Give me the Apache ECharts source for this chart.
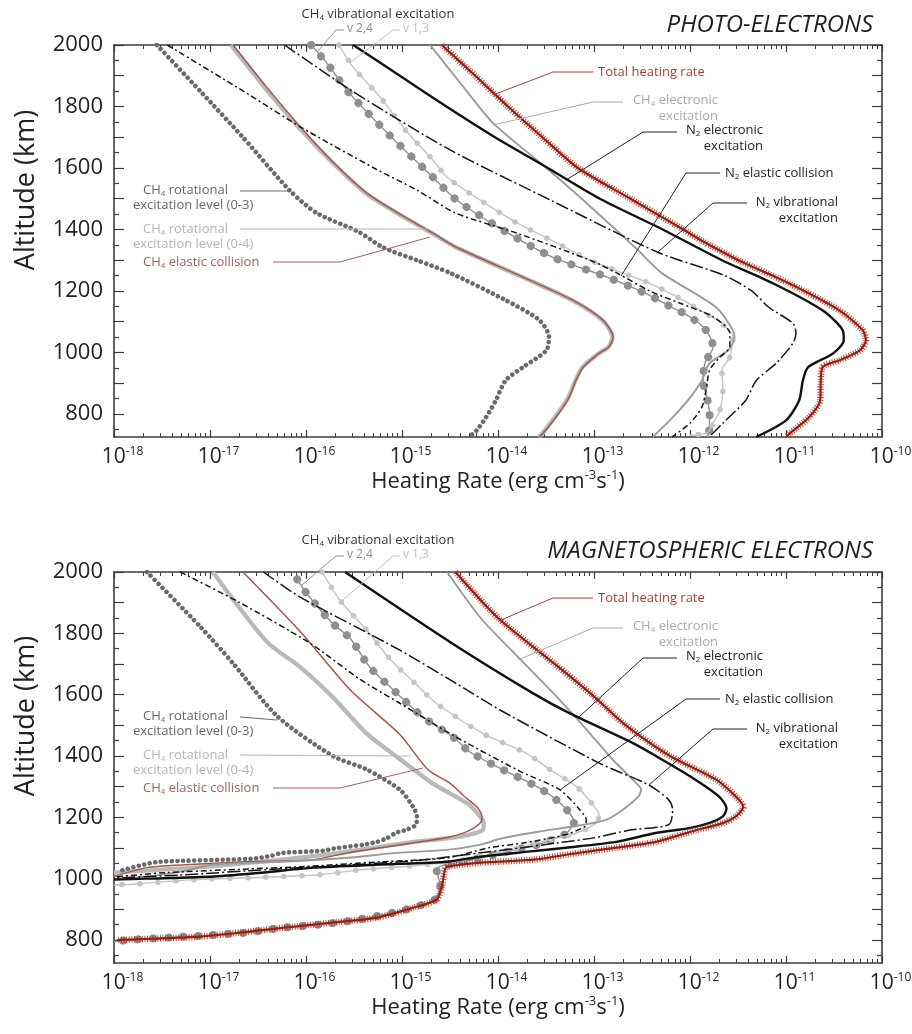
<!DOCTYPE html>
<html>
<head>
<meta charset="utf-8">
<script src="https://cdn.jsdelivr.net/npm/echarts@6/dist/echarts.min.js"></script>
<style>
  html, body { margin: 0; padding: 0; background: #ffffff; }
  #chart { width: 912px; height: 1034px; }
</style>
</head>
<body>
<div id="chart"></div>
<script>
// Heating-rate profiles: each entry is [heating rate (erg cm^-3 s^-1), altitude (km)]

// ---- Photo-electrons ----
const photoTotal = [[2.6e-15,2000],[5.8e-15,1900],[1.27e-14,1800],[2.9e-14,1700],[6.8e-14,1600],[2.4e-13,1500],[8.5e-13,1400],[1.3e-12,1365],[3.2e-12,1300],[1.07e-11,1225],[3.6e-11,1137],[6.3e-11,1072],[6.8e-11,1040],[5.9e-11,1007],[3.65e-11,975],[2.4e-11,952],[2.3e-11,900],[2.27e-11,844],[1.74e-11,789],[1.1e-11,737],[1.0e-11,725]];
const photoN2Elec = [[3.1e-16,2000],[9.5e-16,1900],[2.9e-15,1800],[9.3e-15,1700],[3.3e-14,1600],[1.15e-13,1500],[5.2e-13,1400],[2.15e-12,1300],[7.3e-12,1225],[2.4e-11,1137],[3.9e-11,1072],[4.0e-11,1040],[3.1e-11,997],[1.7e-11,952],[1.5e-11,909],[1.37e-11,844],[1.0e-11,779],[4.9e-12,725]];
const photoCH4Elec = [[1.96e-15,2000],[4.2e-15,1870],[8.9e-15,1746],[3.2e-14,1600],[7.7e-14,1496],[2.8e-13,1336],[5.1e-13,1258],[1.87e-12,1147],[2.8e-12,1072],[2.9e-12,1046],[2.5e-12,1007],[1.6e-12,965],[1.33e-12,909],[9.5e-13,844],[6.6e-13,789],[4.1e-13,725]];
const photoN2Elastic = [[3.6e-18,2000],[2.6e-17,1837],[8.7e-17,1734],[5.1e-16,1600],[1.43e-15,1528],[3.65e-15,1453],[1.58e-14,1388],[9.1e-14,1300],[1.74e-13,1258],[3.8e-13,1200],[7.9e-13,1160],[1.74e-12,1116],[2.6e-12,1063],[2.6e-12,1018],[2.05e-12,985],[1.6e-12,942],[1.47e-12,877],[1.33e-12,822],[1.0e-12,770],[6.5e-13,725]];
const photoN2Vib = [[6.0e-17,2000],[2.9e-16,1854],[3.2e-15,1658],[3.5e-14,1496],[4.6e-13,1326],[2.3e-12,1250],[4.4e-12,1200],[6.6e-12,1147],[1.18e-11,1095],[1.27e-11,1063],[1.18e-11,1030],[7.9e-12,965],[4.9e-12,909],[3.8e-12,844],[2.2e-12,770],[1.58e-12,725]];
const photoVib24 = [[1.13e-16,2000],[1.65e-16,1941],[2.8e-16,1845],[7.5e-16,1705],[2.1e-15,1570],[3.7e-15,1496],[1.13e-14,1398],[3.7e-14,1310],[1.37e-13,1245],[3.4e-13,1193],[6.2e-13,1150],[1.0e-12,1116],[1.47e-12,1072],[1.74e-12,1018],[1.43e-12,965],[1.37e-12,909],[1.5e-12,854],[1.6e-12,802],[1.58e-12,740],[1.5e-12,725]];
const photoVib13 = [[2.2e-16,2000],[3.1e-16,1928],[5.9e-16,1831],[1.13e-15,1717],[2.1e-15,1626],[2.95e-15,1570],[6.5e-15,1496],[1.58e-14,1421],[4.1e-14,1356],[9.1e-14,1300],[2.0e-13,1258],[3.8e-13,1225],[8.5e-13,1170],[1.37e-12,1131],[2.05e-12,1099],[2.8e-12,1050],[2.6e-12,985],[2.15e-12,942],[2.2e-12,877],[2.05e-12,812],[1.74e-12,770],[1.53e-12,740],[1.0e-12,730]];
const photoRot03 = [[2.8e-18,2000],[7.9e-18,1850],[2.2e-17,1700],[6.8e-17,1526],[1.3e-16,1453],[3.5e-16,1393],[6.3e-16,1342],[1.43e-15,1300],[3.2e-15,1258],[1.2e-14,1170],[2.7e-14,1105],[3.4e-14,1050],[3.2e-14,1007],[1.82e-14,952],[1.2e-14,909],[9.5e-15,844],[7.5e-15,789],[6.0e-15,747],[5.0e-15,725]];
const photoRot04 = [[1.65e-17,2000],[3.6e-17,1867],[8.3e-17,1734],[1.85e-16,1620],[4.2e-16,1518],[9.3e-16,1450],[2.05e-15,1388],[3.6e-15,1343],[1.8e-14,1245],[5.9e-14,1170],[1.22e-13,1105],[1.56e-13,1050],[1.42e-13,1018],[1.12e-13,997],[7.6e-14,952],[6.4e-14,909],[5.4e-14,854],[4.2e-14,802],[2.9e-14,737],[2.65e-14,725]];
const photoCH4Elastic = [[1.74e-17,2000],[3.8e-17,1867],[8.7e-17,1734],[1.9e-16,1620],[4.3e-16,1518],[9.5e-16,1450],[2.1e-15,1388],[3.65e-15,1343],[1.82e-14,1245],[6.0e-14,1170],[1.24e-13,1105],[1.58e-13,1050],[1.43e-13,1018],[1.13e-13,997],[7.7e-14,952],[6.5e-14,909],[5.5e-14,854],[4.3e-14,802],[2.95e-14,737],[2.7e-14,725]];

// ---- Magnetospheric electrons ----
const magTotal = [[3.6e-15,2000],[1.0e-14,1850],[3.9e-14,1700],[9.5e-14,1600],[2.15e-13,1500],[6.2e-13,1400],[1.87e-12,1323],[3.0e-12,1268],[3.6e-12,1235],[3.0e-12,1203],[2.2e-12,1181],[1.15e-12,1158],[4.4e-13,1120],[1.7e-13,1101],[5.1e-14,1078],[2.37e-14,1062],[6.6e-15,1052],[2.95e-15,1039],[2.8e-15,1029],[2.6e-15,975],[2.3e-15,932],[1.33e-15,906],[5.5e-16,873],[1.9e-16,857],[5.8e-17,840],[2.05e-17,824],[7.9e-18,811],[2.4e-18,804],[1.07e-18,800]];
const magN2Elec = [[2.55e-16,2000],[3.16e-15,1772],[2.3e-14,1605],[5.6e-14,1539],[2.55e-13,1442],[5.2e-13,1387],[1.15e-12,1322],[2.0e-12,1268],[2.4e-12,1229],[2.2e-12,1203],[1.58e-12,1181],[9.8e-13,1165],[4.4e-13,1149],[1.7e-13,1120],[5.1e-14,1101],[2.05e-14,1088],[6.0e-15,1070],[2.95e-15,1055],[6.0e-16,1046],[1.2e-16,1036],[3.65e-17,1020],[1.1e-17,1007],[2.2e-18,1000],[1.0e-18,997]];
const magCH4Elec = [[2.95e-15,2000],[6.6e-15,1850],[1.7e-14,1716],[3.9e-14,1600],[7.9e-14,1495],[1.58e-13,1387],[2.55e-13,1322],[3.1e-13,1290],[2.9e-13,1268],[2.0e-13,1225],[1.33e-13,1192],[6.0e-14,1170],[2.7e-14,1154],[1.05e-14,1130],[6.6e-15,1111],[2.95e-15,1094],[8.9e-16,1084],[2.7e-16,1068],[5.5e-17,1055],[1.1e-17,1046],[5.0e-18,1023],[2.2e-18,1007],[1.0e-18,997]];
const magN2Elastic = [[4.9e-18,2000],[2.05e-17,1900],[1.1e-16,1768],[3.65e-16,1650],[9.5e-16,1572],[3.65e-15,1462],[1.7e-14,1350],[4.4e-14,1290],[7.1e-14,1225],[8.3e-14,1192],[8.0e-14,1170],[5.0e-14,1143],[1.82e-14,1116],[8.1e-15,1101],[2.95e-15,1068],[6.0e-16,1055],[8.7e-17,1039],[3.6e-18,1020],[1.0e-18,1005]];
const magN2Vib = [[3.6e-17,2000],[8.7e-17,1918],[9.5e-16,1745],[3.65e-15,1637],[1.05e-14,1550],[1.15e-13,1376],[3.7e-13,1306],[6.0e-13,1257],[6.6e-13,1225],[6.0e-13,1176],[2.3e-13,1158],[1.0e-13,1133],[4.0e-14,1116],[1.7e-14,1100],[5.1e-15,1080],[1.54e-15,1060],[2.9e-16,1045],[4.2e-17,1030],[4.9e-18,1012],[1.0e-18,1002]];
const magVib24 = [[8.1e-17,1976],[1.05e-16,1924],[1.9e-16,1832],[2.9e-16,1783],[4.6e-16,1690],[8.9e-16,1604],[1.65e-15,1527],[3.4e-15,1462],[5.1e-15,1413],[1.13e-14,1355],[2.55e-14,1300],[3.7e-14,1267],[5.2e-14,1225],[6.2e-14,1186],[5.2e-14,1148],[4.3e-14,1137],[2.95e-14,1116],[1.33e-14,1090],[5.1e-15,1060],[2.5e-15,1040],[2.3e-15,1029],[2.5e-15,975],[2.2e-15,932],[1.3e-15,906],[8.1e-16,889],[3.4e-16,866],[1.4e-16,850],[5.8e-17,840],[2.4e-17,824],[9.3e-18,815],[3.8e-18,808],[1.58e-18,801],[1.0e-18,795]];
const magVib13 = [[1.47e-16,2000],[2.25e-16,1908],[4.3e-16,1810],[7.7e-16,1712],[1.37e-15,1637],[2.3e-15,1571],[7.0e-15,1473],[2.0e-14,1408],[3.5e-14,1355],[6.6e-14,1300],[9.5e-14,1245],[1.13e-13,1208],[1.05e-13,1181],[6.5e-14,1148],[4.0e-14,1132],[2.15e-14,1110],[1.05e-14,1085],[5.1e-15,1065],[2.5e-15,1050],[9.8e-16,1039],[3.7e-16,1029],[1.43e-16,1013],[3.1e-17,1004],[7.1e-18,997],[2.7e-18,988],[1.6e-18,982],[1.0e-18,980]];
const magRot03 = [[2.2e-18,2000],[7.9e-18,1822],[1.74e-17,1702],[5.0e-17,1530],[1.9e-16,1400],[4.3e-16,1356],[9.5e-16,1290],[1.3e-15,1235],[1.43e-15,1203],[1.4e-15,1176],[1.13e-15,1160],[8.7e-16,1150],[7.0e-16,1132],[5.5e-16,1120],[4.0e-16,1111],[2.1e-16,1100],[1.47e-16,1091],[5.6e-17,1084],[4.4e-17,1075],[2.7e-17,1065],[2.95e-18,1055],[1.82e-18,1042],[1.18e-18,1026]];
const magRot04 = [[1.07e-17,2000],[3.9e-17,1773],[8.7e-17,1690],[1.9e-16,1592],[4.3e-16,1473],[9.5e-16,1390],[2.1e-15,1310],[4.8e-15,1245],[6.5e-15,1203],[7.1e-15,1180],[7.0e-15,1160],[4.0e-15,1137],[1.33e-15,1120],[6.0e-16,1104],[1.78e-16,1080],[3.3e-17,1055],[6.2e-18,1035],[1.0e-18,1020]];
const magCH4Elastic = [[2.2e-17,2000],[8.7e-17,1806],[2.9e-16,1615],[9.5e-16,1470],[1.87e-15,1355],[3.2e-15,1310],[4.5e-15,1267],[6.2e-15,1230],[6.8e-15,1203],[6.6e-15,1183],[4.8e-15,1154],[2.95e-15,1134],[1.33e-15,1117],[2.7e-16,1084],[1.2e-16,1062],[2.5e-17,1055],[7.9e-18,1048],[2.2e-18,1036],[1.0e-18,1007]];

// ---- Axis ticks and labels ----
const RATE_EXPONENTS = [-18, -17, -16, -15, -14, -13, -12, -11, -10];
const ALT_LABELS = [800, 1000, 1200, 1400, 1600, 1800, 2000];
const ALT_MAJOR = [800, 900, 1000, 1100, 1200, 1300, 1400, 1500, 1600, 1700, 1800, 1900, 2000];
const ALT_MINOR = [750, 850, 950, 1050, 1150, 1250, 1350, 1450, 1550, 1650, 1750, 1850, 1950];
const ALT_MIN = 725, ALT_MAX = 2000;

const FONT = '"Open Sans", "Noto Sans", "DejaVu Sans", sans-serif';
const AXIS_COLOR = '#3c3c3c';

// minor log ticks (2..9 within each decade), expressed in log10 space
const LOG_MINOR = [];
for (let n = RATE_EXPONENTS[0]; n < RATE_EXPONENTS[RATE_EXPONENTS.length - 1]; n++) {
  for (let k = 2; k <= 9; k++) LOG_MINOR.push(n + Math.log10(k));
}

const toLog = arr => arr.map(([r, a]) => [Math.log10(r), a]);

function xAxesFor(g, nameGap) {
  const base = {
    gridIndex: g, type: 'value',
    min: RATE_EXPONENTS[0], max: RATE_EXPONENTS[RATE_EXPONENTS.length - 1], interval: 1,
    splitLine: { show: false }
  };
  const line = { show: true, onZero: false, lineStyle: { color: AXIS_COLOR, width: 1.6 } };
  return [
    Object.assign({}, base, {
      position: 'bottom', axisLine: line,
      axisTick: { inside: true, length: 7, lineStyle: { color: AXIS_COLOR, width: 1.2 } },
      axisLabel: {
        margin: 9, color: '#222',
        formatter: v => '{b|10}{e|' + v + '}',
        rich: {
          b: { fontSize: 21, fontFamily: FONT, color: '#222', padding: [0, 0, 0, 17] },
          e: { fontSize: 12, fontFamily: FONT, color: '#222', padding: [0, 0, 11, 0] }
        }
      },
      name: '{n|Heating Rate (erg cm}{s|-3}{n|s}{s|-1}{n|)}',
      nameLocation: 'middle', nameGap: nameGap,
      nameTextStyle: {
        rich: {
          n: { fontSize: 22, fontFamily: FONT, color: '#222' },
          s: { fontSize: 13, fontFamily: FONT, color: '#222', padding: [0, 0, 12, 0] }
        }
      }
    }),
    Object.assign({}, base, {
      position: 'bottom', axisLine: { show: false }, axisLabel: { show: false },
      axisTick: { inside: true, length: 4, customValues: LOG_MINOR, lineStyle: { color: AXIS_COLOR, width: 1 } }
    }),
    Object.assign({}, base, {
      position: 'top', axisLine: line, axisLabel: { show: false },
      axisTick: { inside: true, length: 7, lineStyle: { color: AXIS_COLOR, width: 1.2 } }
    }),
    Object.assign({}, base, {
      position: 'top', axisLine: { show: false }, axisLabel: { show: false },
      axisTick: { inside: true, length: 4, customValues: LOG_MINOR, lineStyle: { color: AXIS_COLOR, width: 1 } }
    })
  ];
}

function yAxesFor(g) {
  const base = { gridIndex: g, type: 'value', min: ALT_MIN, max: ALT_MAX, splitLine: { show: false } };
  const line = { show: true, onZero: false, lineStyle: { color: AXIS_COLOR, width: 1.6 } };
  const major = { inside: true, length: 10, customValues: ALT_MAJOR, lineStyle: { color: AXIS_COLOR, width: 1.2 } };
  const minor = { inside: true, length: 5, customValues: ALT_MINOR, lineStyle: { color: AXIS_COLOR, width: 1.2 } };
  return [
    Object.assign({}, base, {
      position: 'left', axisLine: line, axisTick: major,
      axisLabel: { customValues: ALT_LABELS, formatter: v => String(v), margin: 11, fontSize: 22, fontFamily: FONT, color: '#222' }
    }),
    Object.assign({}, base, { position: 'left', axisLine: { show: false }, axisLabel: { show: false }, axisTick: minor }),
    Object.assign({}, base, { position: 'right', axisLine: line, axisLabel: { show: false }, axisTick: major }),
    Object.assign({}, base, { position: 'right', axisLine: { show: false }, axisLabel: { show: false }, axisTick: minor })
  ];
}

// line layers for each profile; some profiles get a second bead/hatch layer
const STYLES = {
  rot04:     [{ color: '#b9b9b9', width: 4.3 }],
  elastic:   [{ color: '#a3564c', width: 1.5 }],
  rot03:     [{ color: '#6a6a6a', width: 4.6, type: [0.01, 5.6], cap: 'round' }],
  vib24:     [{ color: '#8f8f8f', width: 1.4 }, { color: '#8f8f8f', width: 8, type: [0.01, 15], cap: 'round' }],
  vib13:     [{ color: '#c4c4c4', width: 1.4 }, { color: '#c4c4c4', width: 5.5, type: [0.01, 18], cap: 'round' }],
  ch4elec:   [{ color: '#9b9b9b', width: 1.9 }],
  n2elastic: [{ color: '#151515', width: 1.5, type: [6, 3, 2, 3] }],
  n2vib:     [{ color: '#151515', width: 1.5, type: [13, 3, 2, 3] }],
  n2elec:    [{ color: '#111111', width: 2.4 }],
  total:     [{ color: '#b44a38', width: 6.5, type: [1, 1.6], cap: 'butt' }, { color: '#981f12', width: 2.2 }]
};

function profileSeries(g, key, data) {
  return STYLES[key].map((ls, i) => ({
    type: 'line', name: key + (i ? '-beads' : ''),
    xAxisIndex: g * 4, yAxisIndex: g * 4,
    data: toLog(data), showSymbol: false, symbol: 'none',
    smooth: 0.25,
    silent: true, animation: false, clip: true,
    lineStyle: Object.assign({ join: 'round' }, ls)
  }));
}

function panelSeries(g, d) {
  return [].concat(
    profileSeries(g, 'rot04', d.rot04),
    profileSeries(g, 'elastic', d.elastic),
    profileSeries(g, 'rot03', d.rot03),
    profileSeries(g, 'vib24', d.vib24),
    profileSeries(g, 'vib13', d.vib13),
    profileSeries(g, 'ch4elec', d.ch4elec),
    profileSeries(g, 'n2elastic', d.n2elastic),
    profileSeries(g, 'n2vib', d.n2vib),
    profileSeries(g, 'n2elec', d.n2elec),
    profileSeries(g, 'total', d.total)
  );
}

// ---- annotation helpers ----
function note(x, y, text, color, align, size, style) {
  const fs = size || 13;
  return {
    type: 'text', x: x, y: y, silent: true, z: 100,
    style: {
      text: text, fill: color, font: (style ? style + ' ' : '') + fs + 'px ' + FONT,
      align: align || 'left', verticalAlign: 'middle',
      textAlign: align || 'left', textVerticalAlign: 'middle',
      rich: {
        n: { fontSize: fs, fontFamily: FONT, fill: color },
        s: { fontSize: Math.round(fs * 0.62), fontFamily: FONT, fill: color, padding: [7, 0, 0, 0] }
      }
    }
  };
}
function leader(points, color) {
  return { type: 'polyline', silent: true, z: 100, shape: { points: points }, style: { stroke: color, lineWidth: 1, fill: null } };
}

const C_TOTAL = '#a2413a', C_CH4E = '#a9a9a9', C_N2 = '#222222', C_ROT03 = '#686868', C_ROT04 = '#b4b4b4', C_EL = '#a0615b', C_V24 = '#8f8f8f', C_V13 = '#c0c0c0';

function panelNotes(dy, title, ends) {
  return [
    note(873, 25 + dy, title, '#1e1e1e', 'right', 24, 'italic'),
    note(378, 14 + dy, '{n|CH}{s|4}{n| vibrational excitation}', '#333333', 'center'),
    note(347, 29 + dy, 'v 2,4', C_V24, 'left', 12),
    note(403, 29 + dy, 'v 1,3', C_V13, 'left', 12),
    leader([[344, 30 + dy], [336, 30 + dy], ends.v24], C_V24),
    leader([[400, 30 + dy], [393, 30 + dy], ends.v13], C_V13),

    note(598, 72 + dy, 'Total heating rate', C_TOTAL),
    leader([[593, 72 + dy], [553, 72 + dy], ends.total], C_TOTAL),
    note(718, 100 + dy, '{n|CH}{s|4}{n| electronic}', C_CH4E, 'right'),
    note(718, 116 + dy, 'excitation', C_CH4E, 'right'),
    leader([[623, 102 + dy], [593, 102 + dy], ends.ch4elec], C_CH4E),
    note(763, 130 + dy, '{n|N}{s|2}{n| electronic}', C_N2, 'right'),
    note(763, 146 + dy, 'excitation', C_N2, 'right'),
    leader([[677, 132 + dy], [643, 132 + dy], ends.n2elec], C_N2),
    note(725, 173 + dy, '{n|N}{s|2}{n| elastic collision}', C_N2),
    leader([[720, 173 + dy], [686, 173 + dy], ends.n2elastic], C_N2),
    note(838, 202 + dy, '{n|N}{s|2}{n| vibrational}', C_N2, 'right'),
    note(838, 218 + dy, 'excitation', C_N2, 'right'),
    leader([[747, 203 + dy], [713, 203 + dy], ends.n2vib], C_N2),

    note(143, 190 + dy, '{n|CH}{s|4}{n| rotational}', C_ROT03),
    note(133, 205 + dy, 'excitation level (0-3)', C_ROT03),
    leader([[240, 191 + dy], ends.rot03], C_ROT03),
    note(143, 229 + dy, '{n|CH}{s|4}{n| rotational}', C_ROT04),
    note(133, 244 + dy, 'excitation level (0-4)', C_ROT04),
    leader([[240, 229 + dy], ends.rot04], C_ROT04),
    note(143, 262 + dy, '{n|CH}{s|4}{n| elastic collision}', C_EL),
    leader([[273, 262 + dy], [340, 262 + dy], ends.elastic], C_EL),

    {
      type: 'text', x: 26, y: 190 + dy, rotation: Math.PI / 2, silent: true,
      style: { text: 'Altitude (km)', fill: '#222', font: '27px ' + FONT,
        align: 'center', verticalAlign: 'middle', textAlign: 'center', textVerticalAlign: 'middle' }
    }
  ];
}

const chart = echarts.init(document.getElementById('chart'), null, { renderer: 'canvas' });

chart.setOption({
  backgroundColor: '#ffffff',
  animation: false,
  grid: [
    { left: 114, top: 45, width: 768, height: 392, outerBoundsMode: 'none', containLabel: false },
    { left: 114, top: 572, width: 768, height: 391, outerBoundsMode: 'none', containLabel: false }
  ],
  xAxis: xAxesFor(0, 30).concat(xAxesFor(1, 30)),
  yAxis: yAxesFor(0).concat(yAxesFor(1)),
  series: panelSeries(0, {
    total: photoTotal, n2elec: photoN2Elec, ch4elec: photoCH4Elec, n2elastic: photoN2Elastic,
    n2vib: photoN2Vib, vib24: photoVib24, vib13: photoVib13, rot03: photoRot03,
    rot04: photoRot04, elastic: photoCH4Elastic
  }).concat(panelSeries(1, {
    total: magTotal, n2elec: magN2Elec, ch4elec: magCH4Elec, n2elastic: magN2Elastic,
    n2vib: magN2Vib, vib24: magVib24, vib13: magVib13, rot03: magRot03,
    rot04: magRot04, elastic: magCH4Elastic
  })),
  graphic: { elements: [].concat(
    panelNotes(0, 'PHOTO-ELECTRONS', {
      v24: [318, 51], v13: [350, 63], total: [493, 95], ch4elec: [493, 125], n2elec: [566, 180],
      n2elastic: [621, 276], n2vib: [658, 252], rot03: [290, 191], rot04: [428, 229], elastic: [430, 237]
    }),
    panelNotes(526, 'MAGNETOSPHERIC ELECTRONS', {
      v24: [302, 585], v13: [343, 600], total: [501, 620], ch4elec: [518, 660], n2elec: [579, 717],
      n2elastic: [560, 790], n2vib: [649, 785], rot03: [277, 720], rot04: [410, 756], elastic: [423, 768]
    })
  ) }
});
</script>
</body>
</html>
